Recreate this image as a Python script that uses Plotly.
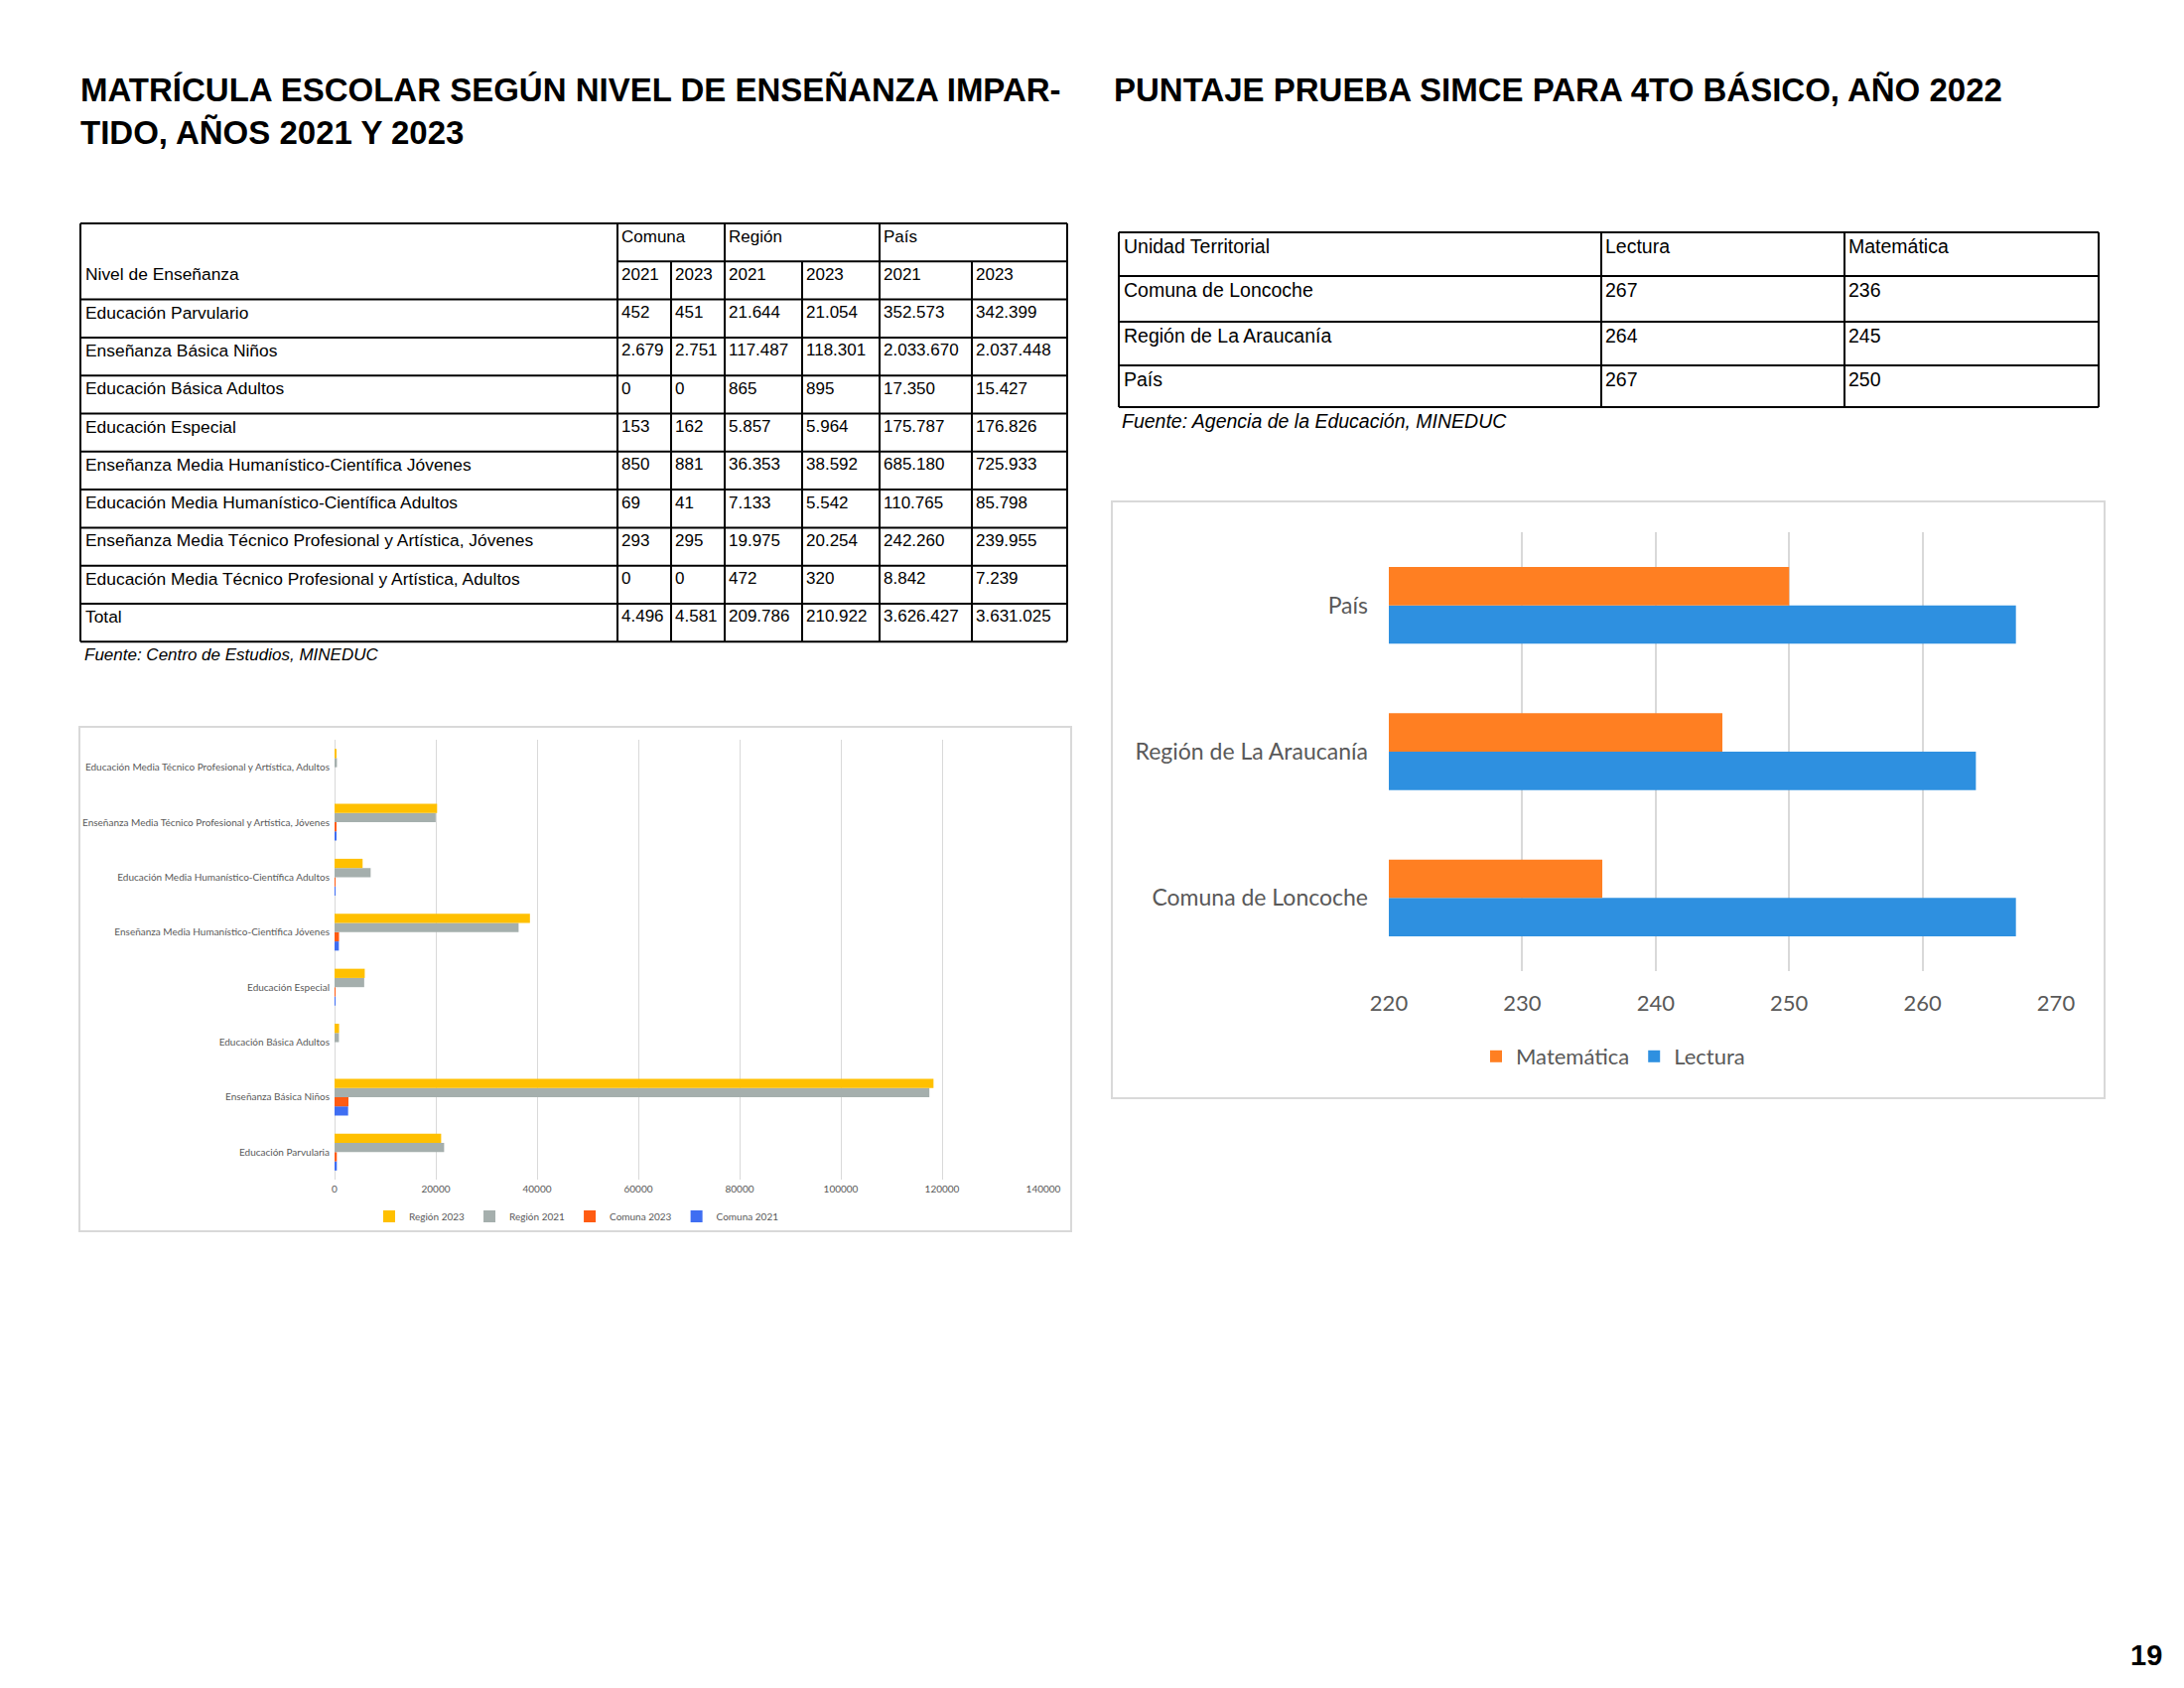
import plotly.graph_objects as go

# ---- data: matricula table / left chart
nivel = ["Educación Parvulario", "Enseñanza Básica Niños", "Educación Básica Adultos",
         "Educación Especial", "Enseñanza Media Humanístico-Científica Jóvenes",
         "Educación Media Humanístico-Científica Adultos",
         "Enseñanza Media Técnico Profesional y Artística, Jóvenes",
         "Educación Media Técnico Profesional y Artística, Adultos", "Total"]
comuna_2021 = [452, 2679, 0, 153, 850, 69, 293, 0, 4496]
comuna_2023 = [451, 2751, 0, 162, 881, 41, 295, 0, 4581]
region_2021 = [21644, 117487, 865, 5857, 36353, 7133, 19975, 472, 209786]
region_2023 = [21054, 118301, 895, 5964, 38592, 5542, 20254, 320, 210922]
pais_2021 = [352573, 2033670, 17350, 175787, 685180, 110765, 242260, 8842, 3626427]
pais_2023 = [342399, 2037448, 15427, 176826, 725933, 85798, 239955, 7239, 3631025]

chart_niveles = ["Educación Parvularia", "Enseñanza Básica Niños", "Educación Básica Adultos",
                 "Educación Especial", "Enseñanza Media Humanístico-Científica Jóvenes",
                 "Educación Media Humanístico-Científica Adultos",
                 "Enseñanza Media Técnico Profesional y Artística, Jóvenes",
                 "Educación Media Técnico Profesional y Artística, Adultos"]
left_ticks = [0, 20000, 40000, 60000, 80000, 100000, 120000, 140000]

# ---- data: simce table / right chart
unidades = ["Comuna de Loncoche", "Región de La Araucanía", "País"]
lectura = [267, 264, 267]
matematica = [236, 245, 250]
right_ticks = [220, 230, 240, 250, 260, 270]

W, H = 2200, 1700
TFONT = "Liberation Sans, Arial, sans-serif"
CFONT = "Lato, Open Sans, sans-serif"


def X(px):
    return px / W


def Y(py):
    return 1 - py / H


def fmt(v):
    return f"{v:,}".replace(",", ".")


shapes = []
annots = []


def line(x0, y0, x1, y1, w=2, c="black"):
    shapes.append(dict(type="line", xref="paper", yref="paper", x0=X(x0), y0=Y(y0),
                       x1=X(x1), y1=Y(y1), line=dict(color=c, width=w)))


def text(x, y, s, size=17, family=TFONT, color="black", xanchor="left", yanchor="middle"):
    annots.append(dict(xref="paper", yref="paper", x=X(x), y=Y(y), text=s, showarrow=False,
                       xanchor=xanchor, yanchor=yanchor, borderpad=0, align="left",
                       font=dict(family=family, size=size, color=color)))


fig = go.Figure()

# ---- left chart (bars bottom->top: Comuna 2021, Comuna 2023, Región 2021, Región 2023)
left_series = [("Comuna 2021", comuna_2021, "#3F6EF2"),
               ("Comuna 2023", comuna_2023, "#FF5B12"),
               ("Región 2021", region_2021, "#A5AFAD"),
               ("Región 2023", region_2023, "#FFC000")]
bw = 0.1675
for i, (name, vals, col) in enumerate(left_series):
    fig.add_trace(go.Bar(y=chart_niveles, x=vals[:8], name=name, orientation="h",
                         marker=dict(color=col, line_width=0), width=bw,
                         offset=-2 * bw + i * bw, xaxis="x", yaxis="y", legend="legend"))

# ---- right chart
bw2 = 0.2625
fig.add_trace(go.Bar(y=unidades, x=lectura, name="Lectura", orientation="h",
                     marker=dict(color="#2E90E0", line_width=0), width=bw2, offset=-bw2,
                     xaxis="x2", yaxis="y2", legend="legend2"))
fig.add_trace(go.Bar(y=unidades, x=matematica, name="Matemática", orientation="h",
                     marker=dict(color="#FF7F22", line_width=0), width=bw2, offset=0,
                     xaxis="x2", yaxis="y2", legend="legend2"))

# ---- titles
text(80, 112, "<b>MATRÍCULA ESCOLAR SEGÚN NIVEL DE ENSEÑANZA IMPAR-<br>TIDO, AÑOS 2021 Y 2023</b>",
     size=33)
text(1121, 91, "<b>PUNTAJE PRUEBA SIMCE PARA 4TO BÁSICO, AÑO 2022</b>", size=33)
text(2179, 1667, "<b>19</b>", size=29, xanchor="right")

# ---- left table
cols = [81, 622, 676, 730, 808, 886, 979, 1075]
top, rh = 225, 38.3
rows = [top + k * rh for k in range(12)]
for k, yy in enumerate(rows):
    if k == 1:
        line(cols[1], yy, cols[-1], yy)
    else:
        line(cols[0], yy, cols[-1], yy)
for j, xx in enumerate(cols):
    y_start = rows[1] if j in (2, 4, 6) else rows[0]
    line(xx, y_start, xx, rows[-1])

dy = 13
for j, g in zip((1, 3, 5), ("Comuna", "Región", "País")):
    text(cols[j] + 3, rows[0] + dy, g)
text(cols[0] + 4, rows[1] + dy, "Nivel de Enseñanza", size=17.4)
for j in range(6):
    text(cols[j + 1] + 3, rows[1] + dy, "2021" if j % 2 == 0 else "2023")
table_cols = [comuna_2021, comuna_2023, region_2021, region_2023, pais_2021, pais_2023]
for r, name in enumerate(nivel):
    yy = rows[2 + r] + dy
    text(cols[0] + 4, yy, name, size=17.4)
    for j, vals in enumerate(table_cols):
        text(cols[j + 1] + 3, yy, fmt(vals[r]))
text(84, 659, "<i>Fuente: Centro de Estudios, MINEDUC</i>", size=17)

# ---- right table
rcols = [1127, 1613, 1858, 2114]
rrows = [234, 278, 324, 368, 410]
RS = 19.5
for yy in rrows:
    line(rcols[0], yy, rcols[-1], yy)
for xx in rcols:
    line(xx, rrows[0], xx, rrows[-1])
text(rcols[0] + 4, rrows[0] + 14, "Unidad Territorial", size=RS)
text(rcols[1] + 3, rrows[0] + 14, "Lectura", size=RS)
text(rcols[2] + 3, rrows[0] + 14, "Matemática", size=RS)
for r, u in enumerate(unidades):
    yy = rrows[1 + r] + 14
    text(rcols[0] + 4, yy, u, size=RS)
    text(rcols[1] + 3, yy, str(lectura[r]), size=RS)
    text(rcols[2] + 3, yy, str(matematica[r]), size=RS)
text(1129, 424, "<i>Fuente: Agencia de la Educación, MINEDUC</i>", size=RS)

# ---- chart frames
for x0, y0, x1, y1 in [(80, 732, 1079, 1240), (1120, 505, 2120, 1106)]:
    shapes.append(dict(type="rect", xref="paper", yref="paper", x0=X(x0), y0=Y(y1),
                       x1=X(x1), y1=Y(y0), line=dict(color="#D9D9D9", width=2),
                       fillcolor="rgba(0,0,0,0)", layer="below"))

fig.update_layout(
    width=W, height=H, autosize=False,
    margin=dict(l=0, r=0, t=0, b=0, pad=0, autoexpand=False),
    paper_bgcolor="white", plot_bgcolor="white", showlegend=True,
    shapes=shapes, annotations=annots,
    xaxis=dict(domain=[X(337), X(1051)], range=[0, 140000], tickvals=left_ticks,
               tickformat="d", automargin=False,
               showgrid=True, gridcolor="#D9D9D9", gridwidth=1, zeroline=True,
               zerolinecolor="#D9D9D9", zerolinewidth=1, showline=False, anchor="y",
               tickfont=dict(family=CFONT, size=10, color="#595959"), ticks="",
               ticklabelstandoff=2, fixedrange=True),
    yaxis=dict(domain=[Y(1188), Y(745)], type="category", categoryorder="array",
               categoryarray=chart_niveles, range=[-0.5, 7.5], anchor="x", automargin=False,
               showgrid=False, showline=False, ticks="", ticklabelstandoff=4,
               tickfont=dict(family=CFONT, size=10, color="#595959")),
    xaxis2=dict(domain=[X(1399), X(2071)], range=[220, 270], tickvals=right_ticks,
                automargin=False,
                showgrid=True, gridcolor="#D9D9D9", gridwidth=2, zeroline=False,
                showline=False, anchor="y2", ticks="", ticklabelstandoff=17,
                tickfont=dict(family=CFONT, size=22, color="#595959")),
    yaxis2=dict(domain=[Y(978), Y(536)], type="category", categoryorder="array",
                categoryarray=unidades, range=[-0.5, 2.5], anchor="x2", automargin=False,
                showgrid=False, showline=False, ticks="", ticklabelstandoff=20,
                tickfont=dict(family=CFONT, size=23, color="#595959")),
    legend=dict(orientation="h", x=X(581), y=Y(1225), xanchor="center", yanchor="middle",
                traceorder="reversed", font=dict(family=CFONT, size=10, color="#595959"),
                itemwidth=30, tracegroupgap=0, bgcolor="rgba(0,0,0,0)"),
    legend2=dict(orientation="h", x=X(1625), y=Y(1064), xanchor="center", yanchor="middle",
                 traceorder="reversed", font=dict(family=CFONT, size=22, color="#595959"),
                 itemwidth=30, bgcolor="rgba(0,0,0,0)"),
)

fig.write_html("out.html", config={"displayModeBar": False},
               post_script="document.body.style.margin='0';")
